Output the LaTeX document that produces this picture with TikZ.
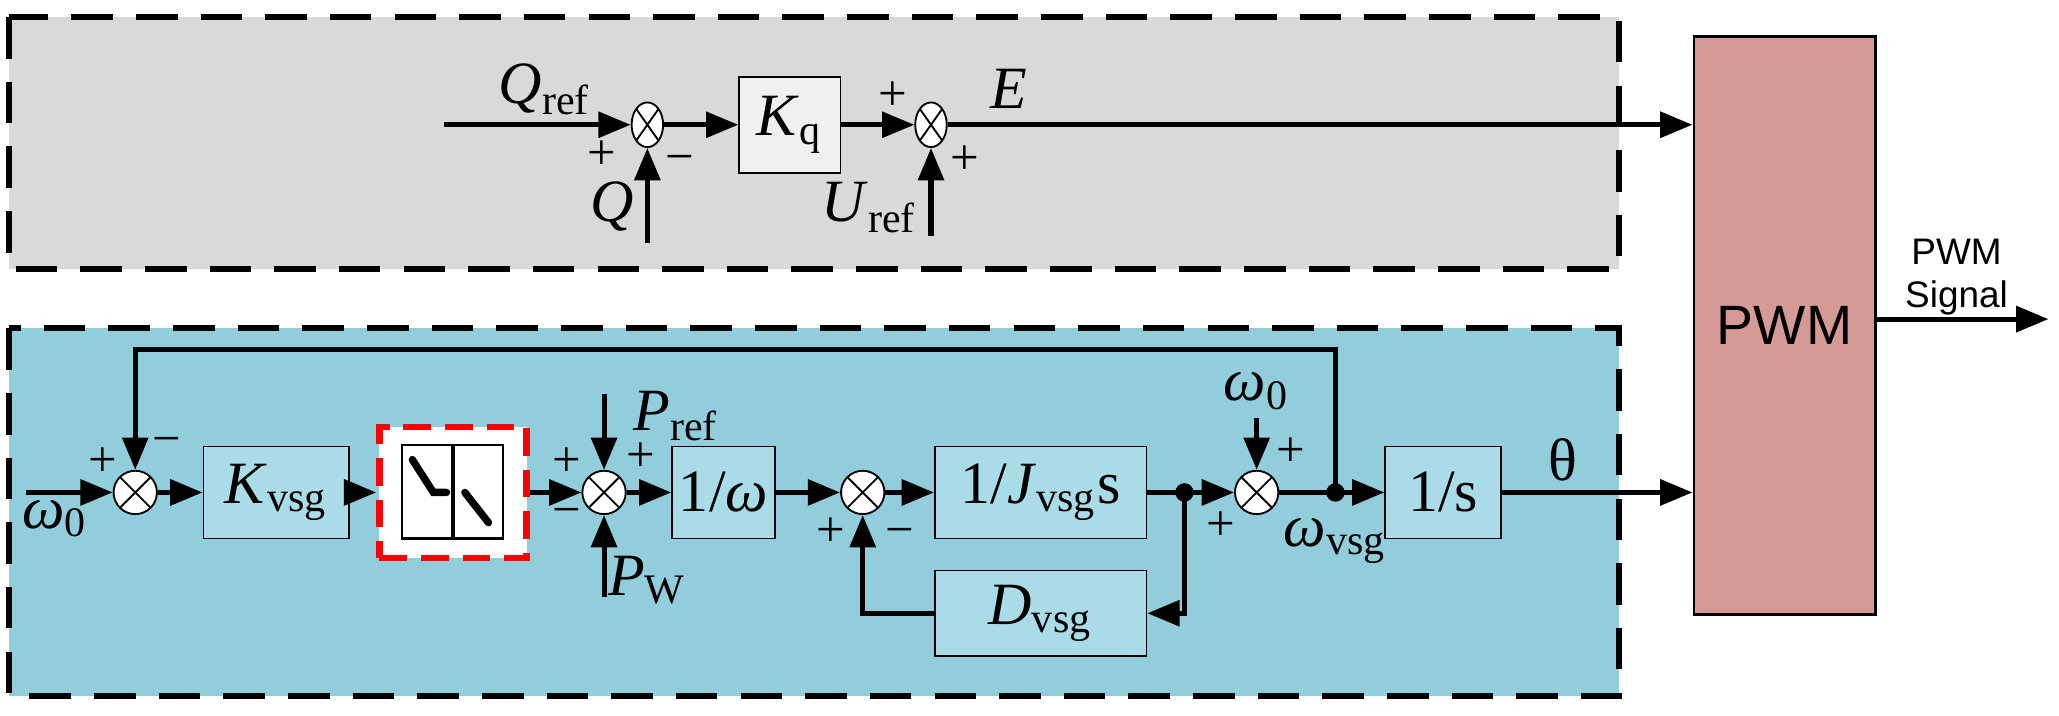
\documentclass[tikz,border=0pt]{standalone}
\usepackage{fontspec}
\setmainfont{Liberation Serif}
\newfontfamily\sansf{Liberation Sans}
\usetikzlibrary{arrows.meta,shapes.geometric}
\definecolor{topbg}{HTML}{D9D9D9}
\definecolor{botbg}{HTML}{92CDDB}
\definecolor{blk}{HTML}{A9DCE6}
\definecolor{pwmc}{HTML}{D69A96}
\newcommand{\vr}[2]{\textit{#1}\textsubscript{#2}}
\begin{document}
\begin{tikzpicture}[x=0.01cm,y=-0.01cm,
  sig/.style={line width=1.1pt,-{Triangle[length=7pt,width=5.5pt]}},
  ln/.style={line width=1.1pt},
  blkb/.style={draw,line width=0.4pt,fill=blk,minimum height=0.7cm,inner sep=0pt,font=\fontsize{13}{15}\selectfont},
  sumc/.style={draw,circle,fill=white,minimum size=0.33cm,inner sep=0pt,path picture={\draw (path picture bounding box.north west)--(path picture bounding box.south east) (path picture bounding box.north east)--(path picture bounding box.south west);}},
  sume/.style={draw,ellipse,fill=white,minimum width=0.24cm,minimum height=0.34cm,inner sep=0pt,path picture={\draw (path picture bounding box.north west)--(path picture bounding box.south east) (path picture bounding box.north east)--(path picture bounding box.south west);}},
  lab/.style={font=\fontsize{13}{15}\selectfont,inner sep=0pt},
  pm/.style={font=\fontsize{11}{13}\selectfont,inner sep=0pt}]
\useasboundingbox (0,0) rectangle (1568,544.5);
\draw[dash pattern=on 9pt off 5pt,line width=1.3pt,fill=topbg] (7,13) rectangle (1233,205);
\draw[dash pattern=on 9pt off 5pt,line width=1.3pt,fill=botbg] (7,250) rectangle (1233,530);
\node[draw,fill=pwmc,line width=0.6pt,minimum width=1.38cm,minimum height=4.4cm,font=\sansf\fontsize{12}{14}\selectfont] (pwm) at (1359,248) {PWM};
\coordinate (pout) at (1560,243);
\draw[sig] (1428,243) -- (pout);
\node[font=\sansf\fontsize{8}{9.5}\selectfont,align=center] (ps) at (1490,211) {PWM\\Signal};
% top
\coordinate (qin) at (338,95);
\node[sume] (s1) at (493,95) {};
\node[draw,fill=black!6,minimum width=0.77cm,minimum height=0.73cm,font=\fontsize{13}{15}\selectfont] (kq) at (601.5,95) {\vr{K}{q}};
\node[sume] (s2) at (709,95) {};
\coordinate (qb) at (493,185);
\coordinate (ub) at (709,180);
\draw[sig] (qin) -- (s1);
\draw[sig] (s1) -- (kq);
\draw[sig] (kq) -- (s2);
\draw[sig] (qb) -- (s1);
\draw[sig] (ub) -- (s2);
\draw[sig] (s2) -- (pwm.west|-s2);
\node[lab] (lq) at (415,68) {\vr{Q}{ref}};
\node[lab] (lQ) at (466,157) {\textit{Q}};
\node[lab] (lu) at (662,158) {\vr{U}{ref}};
\node[lab] (le) at (768,68) {\textit{E}};
\node[pm] at (458,118) {+};
\node[pm] at (518,125) {−};
\node[pm] at (680,73) {+};
\node[pm] at (735,122) {+};
% bottom
\coordinate (win) at (20,375);
\node[sumc] (a1) at (103,375) {};
\node[blkb,minimum width=1.11cm] (kv) at (210.5,375) {\vr{K}{vsg}};
\node[draw=red,dash pattern=on 6pt off 3pt,line width=1.4pt,fill=white,minimum width=1.12cm,minimum height=1.0cm] (db) at (345,375) {};
\draw[line width=0.5pt] (306,339) rectangle (383,410);
\draw[line width=1pt] (345,339) -- (345,410);
\draw[line width=1.6pt,line cap=round] (314,350) -- (330,375) -- (340,375);
\draw[line width=1.6pt,line cap=round] (354,375) -- (372,398);
\node[sumc] (a2) at (460,375) {};
\node[blkb,minimum width=0.78cm] (iw) at (551,375) {1/\textit{ω}};
\node[sumc] (a3) at (657,375) {};
\node[blkb,minimum width=1.61cm] (ij) at (792.5,375) {1/\vr{J}{vsg}s};
\node[blkb,minimum width=1.61cm,minimum height=0.65cm] (dv) at (792.5,467) {\vr{D}{vsg}};
\node[sumc] (a4) at (957,375) {};
\node[blkb,minimum width=0.88cm] (is) at (1099,375) {1/s};
\coordinate (j1) at (902,375);
\coordinate (j2) at (1017,375);
\coordinate (pt) at (460,300);
\coordinate (pb) at (460,455);
\coordinate (wt) at (957,318);
\fill (j1) circle (2pt); \fill (j2) circle (2pt);
\draw[sig] (win) -- (a1);
\draw[sig] (a1) -- (kv);
\draw[sig] (kv) -- (db.west);
\draw[sig] (db.east) -- (a2);
\draw[sig] (pt) -- (a2);
\draw[sig] (pb) -- (a2);
\draw[sig] (a2) -- (iw);
\draw[sig] (iw) -- (a3);
\draw[sig] (a3) -- (ij);
\draw[ln] (ij) -- (j1);
\draw[sig] (j1) -- (a4);
\draw[sig] (j1) |- (dv.east);
\draw[sig] (dv.west) -| (a3);
\draw[sig] (wt) -- (a4);
\draw[sig] (a4) -- (is);
\draw[sig] (j2) |- (103,266) -- (a1);
\draw[sig] (is) -- (pwm.west|-is);
\node[lab] at (42,395) {\textit{ω}\textsubscript{0}};
\node[pm] at (78,352) {+};
\node[pm] at (127,340) {−};
\node[lab] at (515,317) {\vr{P}{ref}};
\node[lab] at (493,442) {\vr{P}{W}};
\node[pm] at (432,352) {+};
\node[pm] at (488,348) {+};
\node[pm] at (432,394) {−};
\node[pm] at (633,405) {+};
\node[pm] at (685,409) {−};
\node[lab] at (957,298) {\textit{ω}\textsubscript{0}};
\node[pm] at (983,344) {+};
\node[pm] at (930,401) {+};
\node[lab] at (1017,412) {\textit{ω}\textsubscript{vsg}};
\node[lab] at (1190,350) {θ};
\end{tikzpicture}
\end{document}
